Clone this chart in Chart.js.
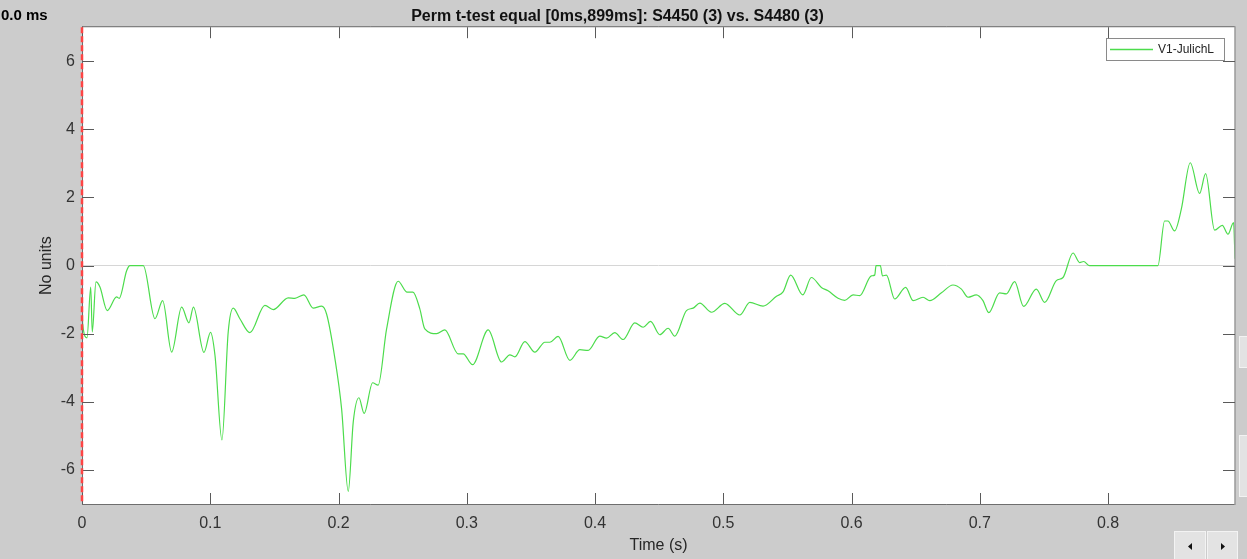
<!DOCTYPE html>
<html><head><meta charset="utf-8">
<script src="https://cdn.jsdelivr.net/npm/chart.js@4.4.1/dist/chart.umd.min.js"></script>
<style>html,body{margin:0;padding:0;background:#cccccc;overflow:hidden}canvas{display:block}</style>
</head><body>
<canvas id="c" width="1247" height="559"></canvas>
<script>
// ---- data ----
const chartTitle = 'Perm t-test equal [0ms,899ms]: S4450 (3) vs. S4480 (3)';
const cursorLabel = '0.0 ms';
const seriesName = 'V1-JulichL';
const xAxisTitle = 'Time (s)';
const yAxisTitle = 'No units';
const xTicks = [0, 0.1, 0.2, 0.3, 0.4, 0.5, 0.6, 0.7, 0.8];
const yTicks = [-6, -4, -2, 0, 2, 4, 6];
const times = [0, 0.0005, 0.0039, 0.0068, 0.008, 0.0109, 0.014, 0.0197, 0.027, 0.029,
  0.0348, 0.0374, 0.0478, 0.0569, 0.0629, 0.0699, 0.0777, 0.0834, 0.0869, 0.0951,
  0.1002, 0.1037, 0.1091, 0.114, 0.1179, 0.1231, 0.1309, 0.1426, 0.1491, 0.1608,
  0.166, 0.173, 0.1803, 0.1868, 0.1907, 0.1972, 0.2024, 0.2076, 0.2115, 0.2159,
  0.22, 0.2266, 0.2309, 0.2375, 0.2465, 0.2535, 0.258, 0.2634, 0.2673, 0.2765,
  0.2829, 0.2933, 0.2972, 0.3045, 0.3167, 0.3271, 0.3336, 0.3375, 0.3453, 0.3531,
  0.3609, 0.3648, 0.3712, 0.3804, 0.3882, 0.3946, 0.4037, 0.409, 0.4154, 0.4219,
  0.431, 0.4375, 0.4433, 0.4505, 0.457, 0.4622, 0.4713, 0.4765, 0.4817, 0.4908,
  0.5012, 0.5129, 0.5207, 0.531, 0.5415, 0.5466, 0.5526, 0.562, 0.5687, 0.5765,
  0.5817, 0.5895, 0.5947, 0.6012, 0.6064, 0.6155, 0.6181, 0.6191, 0.6225, 0.6241,
  0.6272, 0.6337, 0.6422, 0.648, 0.6558, 0.661, 0.6701, 0.6791, 0.6857, 0.6908,
  0.6973, 0.7025, 0.707, 0.7155, 0.7207, 0.7272, 0.7342, 0.7441, 0.7506, 0.7597,
  0.7649, 0.7727, 0.7779, 0.781, 0.7856, 0.8389, 0.8441, 0.8467, 0.8519, 0.8571,
  0.8641, 0.8714, 0.8761, 0.8831, 0.8891, 0.8935, 0.8979, 0.899];
const values = [0, -1.7, -2.12, -0.63, -1.95, -0.48, -0.63, -1.32, -0.92, -0.96,
  -0.15, 0, 0, -1.56, -1.03, -2.54, -1.22, -1.68, -1.22, -2.55,
  -1.96, -2.64, -5.12, -1.95, -1.25, -1.56, -1.97, -1.17, -1.29, -0.95,
  -0.96, -0.86, -1.25, -1.19, -1.42, -2.73, -4.2, -6.63, -4.59, -3.88,
  -4.34, -3.44, -3.51, -1.86, -0.46, -0.78, -0.78, -1.27, -1.86, -2.0,
  -1.89, -2.59, -2.59, -2.91, -1.89, -2.83, -2.62, -2.68, -2.23, -2.54,
  -2.25, -2.25, -2.08, -2.78, -2.47, -2.49, -2.07, -2.13, -1.97, -2.17,
  -1.68, -1.81, -1.64, -2.03, -1.84, -2.07, -1.32, -1.25, -1.10, -1.37,
  -1.11, -1.45, -1.08, -1.19, -0.90, -0.77, -0.28, -0.86, -0.35, -0.64,
  -0.74, -0.96, -1.02, -0.86, -0.88, -0.30, -0.28, 0, 0, -0.3,
  -0.28, -0.98, -0.64, -1.03, -0.93, -1.03, -0.80, -0.57, -0.69, -0.93,
  -0.86, -1.03, -1.38, -0.80, -0.83, -0.47, -1.2, -0.69, -1.08, -0.44,
  -0.35, 0.37, 0.09, 0.12, 0, 0, 1.31, 1.31, 1.02, 1.65,
  3.02, 2.12, 2.70, 1.04, 1.18, 0.92, 1.26, 0.2];

// ---- styling ----
const FONT = '"Liberation Sans", Arial, Helvetica, sans-serif';
const GREEN = '#4cdc4c';

const deco = {
  id: 'deco',
  beforeDraw(chart) {
    const {ctx, chartArea: a} = chart;
    ctx.save();
    ctx.fillStyle = '#cccccc';
    ctx.fillRect(0, 0, chart.width, chart.height);
    ctx.fillStyle = '#ffffff';
    ctx.fillRect(a.left, a.top, a.right - a.left, a.bottom - a.top);
    ctx.restore();
  },
  afterDatasetsDraw(chart) {
    const {ctx, chartArea: a, scales: {x, y}} = chart;
    ctx.save();
    // axes box
    ctx.lineWidth = 1;
    ctx.strokeStyle = '#6e6e6e';
    ctx.beginPath();
    ctx.moveTo(a.left, a.top - 0.5); ctx.lineTo(a.right, a.top - 0.5);
    ctx.moveTo(a.left, a.bottom + 0.5); ctx.lineTo(a.right, a.bottom + 0.5);
    ctx.moveTo(a.left + 0.5, a.top - 1); ctx.lineTo(a.left + 0.5, a.bottom + 1);
    ctx.stroke();
    ctx.strokeStyle = '#9a9a9a';
    ctx.lineWidth = 1.5;
    ctx.beginPath();
    ctx.moveTo(a.right, a.top - 1); ctx.lineTo(a.right, a.bottom + 1);
    ctx.stroke();
    // inward ticks
    ctx.strokeStyle = '#5a5a5a';
    ctx.lineWidth = 1;
    ctx.beginPath();
    const TL = 11;
    x.ticks.forEach(t => {
      const px = Math.round(x.getPixelForValue(t.value)) + 0.5;
      ctx.moveTo(px, a.bottom); ctx.lineTo(px, a.bottom - TL);
      ctx.moveTo(px, a.top); ctx.lineTo(px, a.top + TL);
    });
    y.ticks.forEach(t => {
      const py = Math.round(y.getPixelForValue(t.value)) + 0.5;
      ctx.moveTo(a.left, py); ctx.lineTo(a.left + 12, py);
      ctx.moveTo(a.right, py); ctx.lineTo(a.right - 12, py);
    });
    ctx.stroke();
    // red dashed cursor at t = 0
    const x0 = x.getPixelForValue(0);
    ctx.strokeStyle = '#ff4444';
    ctx.lineWidth = 2.5;
    ctx.setLineDash([6, 3]);
    ctx.beginPath();
    ctx.moveTo(x0, a.top); ctx.lineTo(x0, a.bottom);
    ctx.stroke();
    ctx.restore();
  },
  afterDraw(chart) {
    const {ctx} = chart;
    ctx.save();
    // legend box
    const lx = 1106, ly = 38, lw = 118, lh = 22;
    ctx.fillStyle = '#ffffff';
    ctx.fillRect(lx, ly, lw, lh);
    ctx.strokeStyle = '#8a8a8a';
    ctx.lineWidth = 1;
    ctx.strokeRect(lx + 0.5, ly + 0.5, lw, lh);
    ctx.strokeStyle = GREEN;
    ctx.lineWidth = 1.4;
    ctx.beginPath();
    ctx.moveTo(lx + 4, ly + 11.5); ctx.lineTo(lx + 47, ly + 11.5);
    ctx.stroke();
    ctx.fillStyle = '#262626';
    ctx.font = '12px ' + FONT;
    ctx.textBaseline = 'middle';
    ctx.textAlign = 'left';
    ctx.fillText(seriesName, lx + 52, ly + 11.5);
    // current time label
    ctx.fillStyle = '#000000';
    ctx.font = 'bold 15px ' + FONT;
    ctx.textBaseline = 'alphabetic';
    ctx.fillText(cursorLabel, 1, 20);
    // small GUI buttons (bottom right)
    const btn = (bx, by, bw, bh) => {
      ctx.fillStyle = '#e3e3e3';
      ctx.fillRect(bx, by, bw, bh);
      ctx.strokeStyle = '#f3f3f3';
      ctx.lineWidth = 1;
      ctx.strokeRect(bx + 0.5, by + 0.5, bw - 1, bh - 1);
    };
    btn(1174, 531, 32, 30);
    btn(1207, 531, 31, 30);
    btn(1239, 336, 10, 32);
    btn(1239, 435, 10, 62);
    ctx.fillStyle = '#111111';
    ctx.beginPath();
    ctx.moveTo(1188, 546.5); ctx.lineTo(1192, 543); ctx.lineTo(1192, 550); ctx.closePath();
    ctx.fill();
    ctx.beginPath();
    ctx.moveTo(1225, 546.5); ctx.lineTo(1221, 543); ctx.lineTo(1221, 550); ctx.closePath();
    ctx.fill();
    ctx.restore();
  }
};

new Chart(document.getElementById('c'), {
  type: 'line',
  data: {
    datasets: [{
      label: seriesName,
      data: times.map((t, i) => ({x: t, y: values[i]})),
      borderColor: GREEN,
      borderWidth: 1.2,
      pointRadius: 0,
      fill: false,
      cubicInterpolationMode: 'monotone'
    }]
  },
  options: {
    responsive: false,
    animation: false,
    devicePixelRatio: 1,
    layout: {padding: {left: 0, right: 12, top: 0, bottom: 0}},
    plugins: {
      legend: {display: false},
      tooltip: {enabled: false},
      title: {
        display: true,
        text: chartTitle,
        color: '#111111',
        font: {family: FONT, size: 16, weight: 'bold', lineHeight: 1.2},
        padding: {top: 7, bottom: 1}
      }
    },
    scales: {
      x: {
        type: 'linear',
        min: 0,
        max: 0.899,
        afterBuildTicks: s => { s.ticks = xTicks.map(v => ({value: v})); },
        afterFit: s => { s.height = 55; },
        grid: {display: false, drawTicks: false},
        border: {display: false},
        ticks: {
          padding: 10,
          color: '#333333',
          font: {family: FONT, size: 16},
          maxRotation: 0,
          autoSkip: false,
          callback: v => (v === 0 ? '0' : (+v).toFixed(1))
        },
        title: {
          display: true,
          text: xAxisTitle,
          color: '#262626',
          font: {family: FONT, size: 16},
          padding: {top: 0, bottom: 4}
        }
      },
      y: {
        type: 'linear',
        min: -7,
        max: 7,
        afterBuildTicks: s => { s.ticks = yTicks.map(v => ({value: v})); },
        afterFit: s => { s.width = 82; },
        grid: {
          drawTicks: false,
          color: c => (c.tick && c.tick.value === 0 ? '#d6d6d6' : 'rgba(0,0,0,0)'),
          lineWidth: 1
        },
        border: {display: false},
        ticks: {
          padding: 7,
          color: '#333333',
          font: {family: FONT, size: 16},
          autoSkip: false,
          callback: v => String(v)
        },
        title: {
          display: true,
          text: yAxisTitle,
          color: '#262626',
          font: {family: FONT, size: 16},
          padding: {top: 37, bottom: 0}
        }
      }
    }
  },
  plugins: [deco]
});
</script>
</body></html>
